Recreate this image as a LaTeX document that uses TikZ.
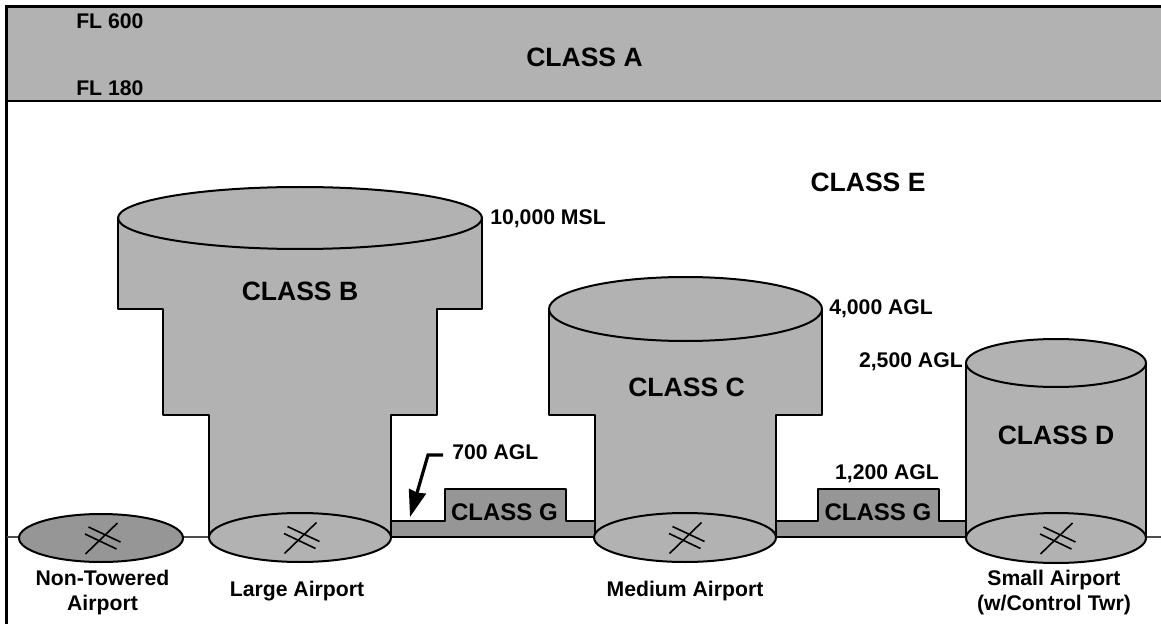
\documentclass[tikz,border=0pt]{standalone}
\usepackage{fontspec}
\setmainfont{Liberation Sans}
\usetikzlibrary{arrows.meta}
\definecolor{clsfill}{HTML}{B2B2B2}
\definecolor{gfill}{HTML}{969696}
\tikzset{
  airspace/.style={draw=black,line width=1.5pt,fill=clsfill,line join=round},
  gspace/.style={draw=black,line width=1.3pt,fill=gfill,line join=round},
  ground/.style={draw=black!70,line width=1pt},
  rwy/.style={draw=black,line width=1.2pt},
  lab/.style={font=\fontsize{15.9}{19.2}\bfseries\selectfont,align=center,inner sep=0pt,text=black},
  cls/.style={font=\fontsize{19.9}{23}\bfseries\selectfont,inner sep=0pt,text=black},
  clsg/.style={font=\fontsize{18}{21}\bfseries\selectfont,inner sep=0pt,text=black},
  pics/runway/.style={code={
    \draw[rwy] (-12.5,-11) -- (19.5,4);
    \draw[rwy] (-16,-4) -- (15.5,11);
    \draw[rwy] (16.5,-15) -- (-15.5,16);
  }}
}
\begin{document}
\begin{tikzpicture}[x=0.75pt,y=-0.75pt]
\useasboundingbox (0,0) rectangle (1161,624);
% frame
\draw[line width=1.7pt] (6.5,101) -- (6.5,624);
\fill[clsfill] (6.5,6.5) rectangle (1161,101);
\draw[line width=2pt] (1161,6.5) -- (6.5,6.5) -- (6.5,101.5);
\draw[line width=1.5pt] (6.5,101.5) -- (1161,101.5);
% ground
\draw[ground] (6.5,537) -- (1161,537);
% class G
\draw[gspace] (385,537) -- (385,521) -- (445,521) -- (445,489) -- (566,489) -- (566,521) -- (600,521) -- (600,537) -- cycle;
\draw[gspace] (770,537) -- (770,521) -- (818,521) -- (818,489) -- (939,489) -- (939,521) -- (970,521) -- (970,537) -- cycle;
% class B
\draw[airspace] (118,218) -- (118,309) -- (163,309) -- (163,415) -- (209,415) -- (209,537.5)
  -- (391,537.5) -- (391,415) -- (437,415) -- (437,309) -- (482,309) -- (482,218) -- cycle;
\node[inner sep=0pt] (btopc) at (300,218) {};
\draw[airspace] (btopc) ellipse[x radius=182,y radius=31];
% class C
\draw[airspace] (549,309) -- (549,415) -- (594.5,415) -- (594.5,537.5) -- (776,537.5) -- (776,415) -- (822,415) -- (822,309) -- cycle;
\node[inner sep=0pt] (ctopc) at (685.5,309) {};
\draw[airspace] (ctopc) ellipse[x radius=136.5,y radius=32];
% class D
\draw[airspace] (966,363) -- (966,537.5) -- (1146,537.5) -- (1146,363) -- cycle;
\node[inner sep=0pt] (dtopc) at (1056,363) {};
\draw[airspace] (dtopc) ellipse[x radius=90,y radius=24];
% airports
\node[inner sep=0pt] (ntc) at (101,538) {};
\draw[airspace,fill=gfill] (ntc) ellipse[x radius=82,y radius=24];
\node[inner sep=0pt] (lac) at (300,537.5) {};
\draw[airspace] (lac) ellipse[x radius=91,y radius=24.5];
\node[inner sep=0pt] (mac) at (685,537.5) {};
\draw[airspace] (mac) ellipse[x radius=91,y radius=24.5];
\node[inner sep=0pt] (sac) at (1056,538) {};
\draw[airspace] (sac) ellipse[x radius=90,y radius=25];
\pic at (ntc) {runway};
\pic at (lac) {runway};
\pic at (mac) {runway};
\pic at (sac) {runway};
% labels
\node[cls] (ca) at (584.5,57) {CLASS A};
\node[cls] (ce) at (868,182) {CLASS E};
\node[cls] (cb) at (300,291) {CLASS B};
\node[cls] (cc) at (686.5,387) {CLASS C};
\node[cls] (cd) at (1056,435) {CLASS D};
\node[clsg] (cg1) at (504.5,512) {CLASS G};
\node[clsg] (cg2) at (878,512) {CLASS G};
\node[lab,anchor=west] (fl6) at (76,21) {FL 600};
\node[lab,anchor=west] (fl1) at (76,88) {FL 180};
\node[lab,anchor=west] (m10) at (490,218.5) {10,000 MSL};
\node[lab,anchor=west] (a4) at (829,308.5) {4,000 AGL};
\node[lab,anchor=east] (a25) at (963,361.5) {2,500 AGL};
\node[lab,anchor=west] (a7) at (452,452) {700 AGL};
\node[lab] (a12) at (887,474) {1,200 AGL};
\node[lab] (nt) at (102.5,592.5) {Non-Towered\\Airport};
\node[lab] (la) at (297,591.5) {Large Airport};
\node[lab] (ma) at (685,591.5) {Medium Airport};
\node[lab] (sa) at (1054,592.5) {Small Airport\\(w/Control Twr)};
% arrow
\coordinate (abend) at (428,455);
\coordinate (atip) at (410,517);
\draw[line width=2.4pt,-{Stealth[length=20pt,width=13pt,inset=1pt]}] (a7.west) ++(-9,3) -- (abend) -- (atip);
\end{tikzpicture}
\end{document}
